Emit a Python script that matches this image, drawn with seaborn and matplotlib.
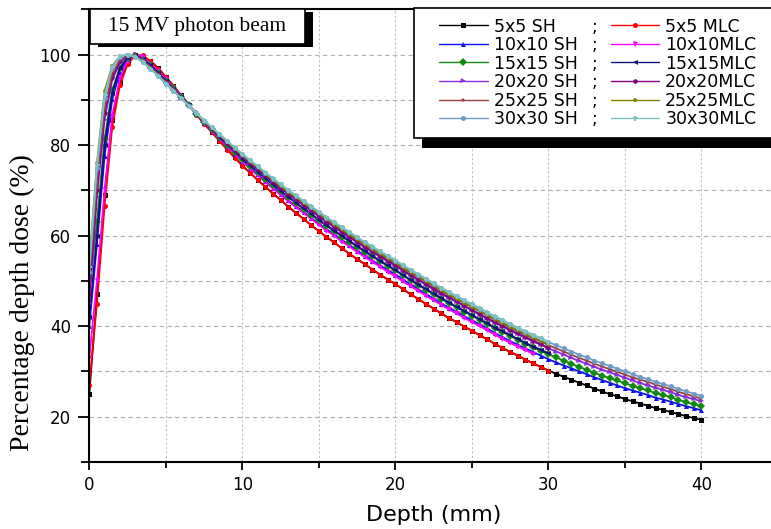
import numpy as np
import matplotlib
matplotlib.use("Agg")
import matplotlib.pyplot as plt
import matplotlib.patheffects as pe
from matplotlib.patches import Rectangle
from matplotlib.ticker import MultipleLocator
from matplotlib.transforms import IdentityTransform
import seaborn as sns

# --- data (percentage depth dose vs depth) ---
# depth grid: SH curves run 0-40, MLC curves 0-30, every 0.5
depth = np.arange(0, 40.5, 0.5)

sh_5x5 = [25.0, 47.0, 69.0, 85.5, 94.0, 98.3, 100.0, 99.6, 98.6, 97.0,
          95.1, 93.1, 91.0, 88.9, 86.8, 84.8, 82.9, 81.0, 79.1, 77.3,
          75.5, 73.9, 72.3, 70.8, 69.3, 67.9, 66.4, 65.0, 63.7, 62.3,
          61.0, 59.7, 58.5, 57.2, 56.0, 54.8, 53.7, 52.5, 51.4, 50.3,
          49.3, 48.2, 47.0, 46.0, 44.9, 43.9, 42.8, 41.8, 40.9, 39.9,
          39.0, 38.0, 37.1, 36.1, 35.2, 34.3, 33.5, 32.6, 31.8, 31.0,
          30.2, 29.5, 28.8, 28.2, 27.5, 26.9, 26.2, 25.6, 25.0, 24.5,
          23.9, 23.4, 22.9, 22.4, 21.9, 21.5, 21.0, 20.6, 20.1, 19.7,
          19.3]
sh_10x10 = [40.0, 58.2, 77.6, 90.1, 96.2, 99.0, 99.8, 99.1, 97.9, 96.3,
            94.5, 92.7, 90.7, 88.8, 86.9, 85.0, 83.3, 81.6, 79.8, 78.1,
            76.5, 75.0, 73.5, 72.0, 70.6, 69.3, 67.8, 66.5, 65.3, 63.9,
            62.7, 61.4, 60.3, 59.0, 57.9, 56.7, 55.6, 54.5, 53.4, 52.4,
            51.4, 50.3, 49.2, 48.2, 47.1, 46.1, 45.0, 44.1, 43.2, 42.2,
            41.3, 40.4, 39.5, 38.5, 37.6, 36.7, 35.9, 35.1, 34.3, 33.5,
            32.7, 32.0, 31.3, 30.7, 30.0, 29.4, 28.7, 28.1, 27.5, 26.9,
            26.3, 25.8, 25.3, 24.8, 24.2, 23.8, 23.3, 22.8, 22.3, 21.9,
            21.4]
sh_15x15 = [48.0, 63.0, 81.3, 92.1, 97.1, 99.3, 99.7, 98.9, 97.6, 96.0,
            94.2, 92.5, 90.6, 88.8, 86.9, 85.1, 83.5, 81.8, 80.1, 78.5,
            76.9, 75.4, 74.0, 72.6, 71.2, 69.8, 68.5, 67.2, 65.9, 64.6,
            63.4, 62.2, 61.0, 59.8, 58.7, 57.5, 56.4, 55.4, 54.3, 53.3,
            52.3, 51.2, 50.1, 49.1, 48.0, 47.0, 46.0, 45.1, 44.2, 43.2,
            42.3, 41.4, 40.5, 39.5, 38.7, 37.8, 37.0, 36.1, 35.3, 34.6,
            33.8, 33.1, 32.4, 31.7, 31.0, 30.4, 29.7, 29.1, 28.5, 28.0,
            27.4, 26.8, 26.3, 25.8, 25.2, 24.8, 24.3, 23.7, 23.2, 22.8,
            22.3]
sh_20x20 = [45.0, 68.6, 85.6, 94.4, 98.2, 99.6, 99.6, 98.7, 97.3, 95.7,
            93.9, 92.3, 90.5, 88.8, 87.0, 85.3, 83.7, 82.1, 80.5, 78.9,
            77.4, 76.0, 74.6, 73.2, 71.8, 70.5, 69.2, 67.9, 66.7, 65.5,
            64.2, 63.0, 61.9, 60.7, 59.6, 58.5, 57.4, 56.4, 55.3, 54.3,
            53.3, 52.2, 51.2, 50.2, 49.1, 48.1, 47.1, 46.2, 45.3, 44.4,
            43.5, 42.5, 41.6, 40.7, 39.9, 39.0, 38.2, 37.4, 36.6, 35.9,
            35.1, 34.4, 33.7, 33.0, 32.3, 31.7, 31.0, 30.4, 29.8, 29.2,
            28.6, 28.0, 27.4, 26.9, 26.4, 25.9, 25.4, 24.8, 24.3, 23.9,
            23.4]
sh_25x25 = [50.0, 71.9, 88.1, 95.7, 98.9, 99.8, 99.6, 98.5, 97.1, 95.5,
            93.8, 92.1, 90.4, 88.7, 87.0, 85.3, 83.8, 82.3, 80.7, 79.2,
            77.7, 76.3, 75.0, 73.6, 72.2, 70.9, 69.6, 68.4, 67.2, 66.0,
            64.7, 63.5, 62.4, 61.3, 60.2, 59.1, 58.0, 57.0, 55.9, 54.9,
            53.9, 52.8, 51.8, 50.8, 49.8, 48.8, 47.8, 46.9, 46.0, 45.1,
            44.2, 43.3, 42.4, 41.4, 40.6, 39.7, 38.9, 38.1, 37.3, 36.6,
            35.8, 35.1, 34.4, 33.7, 33.0, 32.4, 31.7, 31.1, 30.5, 29.9,
            29.3, 28.7, 28.2, 27.7, 27.1, 26.6, 26.1, 25.5, 25.0, 24.5,
            24.0]
sh_30x30 = [52.0, 75.0, 90.5, 97.0, 99.5, 100.0, 99.5, 98.4, 96.9, 95.3,
            93.6, 92.0, 90.3, 88.7, 87.0, 85.4, 83.9, 82.4, 80.9, 79.4,
            78.0, 76.6, 75.3, 73.9, 72.6, 71.3, 70.0, 68.8, 67.6, 66.4,
            65.2, 64.0, 62.9, 61.8, 60.7, 59.6, 58.5, 57.5, 56.5, 55.5,
            54.5, 53.4, 52.4, 51.4, 50.4, 49.4, 48.4, 47.5, 46.6, 45.7,
            44.8, 43.9, 43.0, 42.1, 41.3, 40.4, 39.6, 38.8, 38.0, 37.3,
            36.5, 35.8, 35.1, 34.4, 33.7, 33.1, 32.4, 31.8, 31.2, 30.6,
            30.0, 29.4, 28.8, 28.3, 27.7, 27.2, 26.7, 26.1, 25.6, 25.1,
            24.6]

mlc_5x5 = [27.0, 45.0, 66.5, 84.0, 93.2, 97.8, 99.8, 99.8, 98.5, 96.9,
           95.0, 93.0, 90.9, 88.8, 86.7, 84.7, 82.8, 80.9, 79.0, 77.2,
           75.4, 73.9, 72.3, 70.8, 69.3, 67.9, 66.4, 65.0, 63.7, 62.3,
           61.0, 59.7, 58.5, 57.2, 56.0, 54.8, 53.7, 52.5, 51.4, 50.3,
           49.3, 48.2, 47.0, 46.0, 44.9, 43.9, 42.8, 41.8, 40.9, 39.9,
           39.0, 38.0, 37.1, 36.1, 35.2, 34.3, 33.5, 32.6, 31.8, 31.0,
           30.2]
mlc_10x10 = [33.0, 50.0, 70.0, 86.5, 94.8, 98.6, 100.0, 99.5, 98.0, 96.4,
             94.6, 92.7, 90.8, 88.8, 86.9, 85.0, 83.2, 81.5, 79.7, 78.0,
             76.3, 74.8, 73.3, 71.8, 70.4, 69.0, 67.6, 66.3, 65.0, 63.7,
             62.4, 61.1, 60.0, 58.7, 57.6, 56.4, 55.3, 54.2, 53.1, 52.0,
             51.0, 49.9, 48.8, 47.8, 46.7, 45.7, 44.7, 43.7, 42.8, 41.8,
             40.9, 40.0, 39.1, 38.1, 37.2, 36.3, 35.5, 34.7, 33.9]
mlc_15x15 = [42.0, 60.0, 80.0, 91.5, 97.0, 99.3, 99.8, 99.0, 97.6, 96.0,
             94.2, 92.4, 90.6, 88.8, 86.9, 85.2, 83.5, 81.8, 80.2, 78.6,
             77.0, 75.5, 74.1, 72.7, 71.3, 69.9, 68.6, 67.3, 66.0, 64.8,
             63.5, 62.3, 61.1, 60.0, 58.8, 57.7, 56.6, 55.5, 54.5, 53.4,
             52.4, 51.3, 50.2, 49.2, 48.2, 47.2, 46.2, 45.2, 44.3, 43.4,
             42.5, 41.5, 40.6, 39.7, 38.9, 38.0, 37.2, 36.3, 35.5, 34.8,
             34.0]
mlc_20x20 = [47.0, 70.0, 87.0, 95.0, 98.5, 99.7, 99.6, 98.6, 97.2, 95.6,
             93.9, 92.2, 90.4, 88.7, 87.0, 85.3, 83.7, 82.1, 80.5, 79.0,
             77.5, 76.1, 74.7, 73.3, 71.9, 70.6, 69.3, 68.0, 66.8, 65.6,
             64.4, 63.1, 62.0, 60.9, 59.8, 58.6, 57.5, 56.5, 55.5, 54.5,
             53.5, 52.4, 51.3, 50.3, 49.3, 48.3, 47.3, 46.4, 45.5, 44.5,
             43.6, 42.7, 41.8, 40.9, 40.1, 39.2, 38.4, 37.6, 36.8, 36.0,
             35.2]
mlc_25x25 = [54.0, 76.0, 92.0, 97.5, 99.6, 100.0, 99.6, 98.5, 97.0, 95.4,
             93.7, 92.1, 90.4, 88.7, 87.0, 85.4, 83.8, 82.3, 80.8, 79.2,
             77.8, 76.4, 75.1, 73.7, 72.3, 71.0, 69.7, 68.5, 67.3, 66.1,
             64.9, 63.7, 62.6, 61.4, 60.3, 59.2, 58.1, 57.1, 56.1, 55.1,
             54.1, 53.0, 52.0, 51.0, 50.0, 49.0, 48.0, 47.0, 46.1, 45.2,
             44.3, 43.4, 42.5, 41.6, 40.8, 39.9, 39.1, 38.3, 37.5, 36.8,
             36.0]
mlc_30x30 = [53.0, 75.5, 91.0, 97.2, 99.6, 100.0, 99.4, 98.3, 96.8, 95.2,
             93.6, 92.0, 90.3, 88.7, 87.0, 85.5, 84.0, 82.5, 81.0, 79.5,
             78.1, 76.7, 75.4, 74.0, 72.7, 71.4, 70.1, 68.9, 67.7, 66.5,
             65.3, 64.1, 63.0, 61.9, 60.8, 59.7, 58.6, 57.6, 56.6, 55.6,
             54.6, 53.5, 52.5, 51.5, 50.5, 49.5, 48.5, 47.6, 46.7, 45.8,
             44.9, 44.0, 43.1, 42.2, 41.4, 40.5, 39.7, 38.9, 38.1, 37.4,
             36.6]

sh_labels = ["5x5 SH", "10x10 SH", "15x15 SH", "20x20 SH", "25x25 SH", "30x30 SH"]
mlc_labels = ["5x5 MLC", "10x10MLC", "15x15MLC", "20x20MLC", "25x25MLC", "30x30MLC"]
sh_series = [sh_5x5, sh_10x10, sh_15x15, sh_20x20, sh_25x25, sh_30x30]
mlc_series = [mlc_5x5, mlc_10x10, mlc_15x15, mlc_20x20, mlc_25x25, mlc_30x30]

sh_colors = ["#000000", "#1010f0", "#108a10", "#8a2be2", "#9a4040", "#6e9cc8"]
mlc_colors = ["#ff0000", "#ff00ff", "#101080", "#800080", "#808000", "#7cc4c4"]
sh_markers = ["s", "^", "D", ">", "*", "o"]
mlc_markers = ["o", "v", "<", "h", "p", "P"]

# --- figure ---
sns.set_style("ticks")
plt.rcParams["font.family"] = ["DejaVu Sans"]
for key in ["text.color", "axes.labelcolor", "xtick.color", "ytick.color"]:
    plt.rcParams[key] = "black"

fig = plt.figure(figsize=(7.71, 5.29), dpi=100)
ax = fig.add_axes([0.1158, 0.1267, 0.8932, 0.8558])

sh_lines, mlc_lines = [], []
for i in range(6):
    # Origin-style order: SH then matching MLC
    for vals, lab, col, mk, store in [
        (sh_series[i], sh_labels[i], sh_colors[i], sh_markers[i], sh_lines),
        (mlc_series[i], mlc_labels[i], mlc_colors[i], mlc_markers[i], mlc_lines),
    ]:
        x = depth[:len(vals)]
        sns.lineplot(x=x, y=vals, ax=ax, color=col, marker=mk, markersize=3.6,
                     markeredgewidth=0, linewidth=1.3, errorbar=None,
                     legend=False, sort=False)
        line = ax.get_lines()[-1]
        line.set_label(lab)
        store.append(line)

ax.set_xlim(0, 45)
ax.set_ylim(10, 110)
ax.set_xticks([0, 10, 20, 30, 40])
ax.set_yticks([20, 40, 60, 80, 100])
ax.xaxis.set_minor_locator(MultipleLocator(5))
ax.yaxis.set_minor_locator(MultipleLocator(10))
ax.tick_params(axis="both", which="major", labelsize=12, width=1.3, direction="out")
ax.tick_params(axis="x", which="major", length=6, pad=4)
ax.tick_params(axis="y", which="major", length=8, pad=5)
ax.tick_params(axis="x", which="minor", length=4.5, width=1.3)
ax.tick_params(axis="y", which="minor", length=5.5, width=1.3)

ax.grid(True, axis="y", which="both", color="#b0b0b0", linestyle=(0, (4, 3)), linewidth=0.8)
ax.grid(True, axis="x", which="both", color="#c0c0c0", linestyle=(0, (2, 2)), linewidth=0.8)
ax.set_axisbelow(True)
for s in ax.spines.values():
    s.set_linewidth(1.5)
    s.set_color("black")

ax.set_xlabel("Depth (mm)", fontsize=16, labelpad=8)
ax.set_ylabel("Percentage depth dose (%)", fontsize=20,
              family=["Liberation Serif", "DejaVu Serif"])
ax.yaxis.set_label_coords(-0.079, 0.353)

shadow_big = [pe.SimplePatchShadow(offset=(5.8, -7), shadow_rgbFace="black", alpha=1.0),
              pe.Normal()]
shadow_small = [pe.SimplePatchShadow(offset=(5.8, -2.5), shadow_rgbFace="black", alpha=1.0),
                pe.Normal()]

# title box in the upper left corner
tbox = Rectangle((90 / 771, 1 - 44 / 529), 215 / 771, 35 / 529, transform=fig.transFigure,
                 facecolor="white", edgecolor="black", linewidth=1.2, zorder=4, clip_on=False)
tbox.set_path_effects(shadow_small)
ax.add_patch(tbox)
ax.text(197.5 / 771, 1 - 27 / 529, "15 MV photon beam", transform=fig.transFigure,
        ha="center", va="center", fontsize=15.5,
        family=["Liberation Serif", "DejaVu Serif"], zorder=6)

# legend frame
lbox = Rectangle((414 / 771, 1 - 138 / 529), 380 / 771, 130 / 529, transform=fig.transFigure,
                 facecolor="white", edgecolor="black", linewidth=1.2, zorder=4, clip_on=False)
lbox.set_path_effects(shadow_big)
ax.add_patch(lbox)

leg = ax.legend(sh_lines + mlc_lines, sh_labels + mlc_labels, ncol=2,
                loc="upper left", bbox_to_anchor=(439 / 771, 1 - 17.5 / 529),
                bbox_transform=fig.transFigure, frameon=False, fontsize=12.5,
                handlelength=2.8, handletextpad=0.35, columnspacing=1.9,
                labelspacing=0.03, borderpad=0, borderaxespad=0,
                markerscale=1.0)
leg.set_zorder(6)
for h in leg.legend_handles:
    h.set_linewidth(1.0)

# the ";" separators between the two legend columns
fig.canvas.draw()
renderer = fig.canvas.get_renderer()
texts = leg.get_texts()
col1 = [t.get_window_extent(renderer) for t in texts[:6]]
xsep = max(bb.x1 for bb in col1) + 17
for bb in col1:
    fig.text(xsep, bb.y0, ";", transform=IdentityTransform(), ha="center",
             va="bottom", fontsize=12.5, zorder=7)

fig.savefig("out.png", dpi=100)
